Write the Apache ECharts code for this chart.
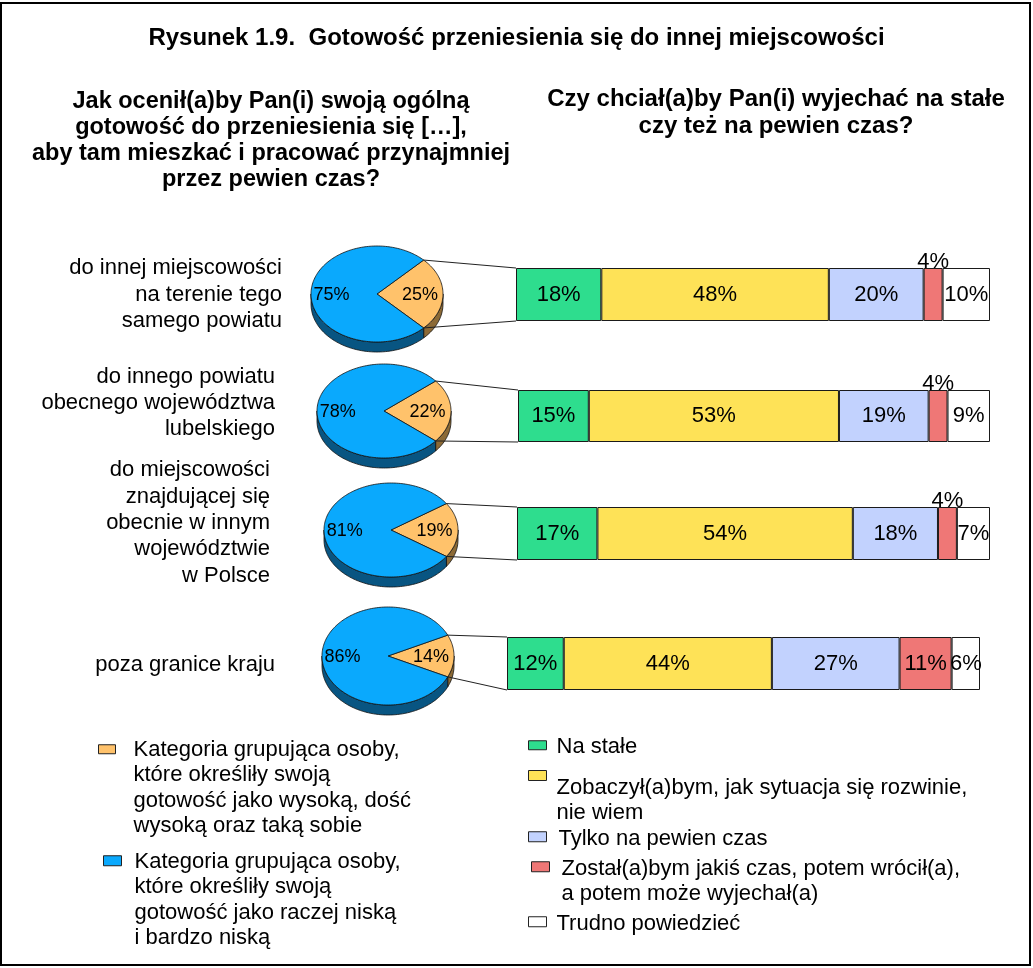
<!DOCTYPE html>
<html><head><meta charset="utf-8">
<script src="https://cdn.jsdelivr.net/npm/echarts@6/dist/echarts.min.js"></script>
<style>html,body{margin:0;padding:0;background:#fff}#c{width:1033px;height:968px}</style>
</head><body><div id="c"></div>
<script>
// ---------- data ----------
const rowLabels = [
  'do innej miejscowości\nna terenie tego\nsamego powiatu',
  'do innego powiatu\nobecnego województwa\nlubelskiego',
  'do miejscowości\nznajdującej się\nobecnie w innym\nwojewództwie\nw Polsce',
  'poza granice kraju'
];
const pieHighShare = [25, 22, 19, 14];   // wysoka, dość wysoka, taka sobie
const pieLowShare  = [75, 78, 81, 86];   // raczej niska, bardzo niska
const naStale          = [18, 15, 17, 12];
const zobaczylbym      = [48, 53, 54, 44];
const tylkoNaPewien    = [20, 19, 18, 27];
const zostalbym        = [4, 4, 4, 11];
const trudnoPowiedziec = [10, 9, 7, 6];

const pieNames = [
  'Kategoria grupująca osoby, które określiły swoją gotowość jako wysoką, dość wysoką oraz taką sobie',
  'Kategoria grupująca osoby, które określiły swoją gotowość jako raczej niską i bardzo niską'
];
const barNames = [
  'Na stałe',
  'Zobaczył(a)bym, jak sytuacja się rozwinie, nie wiem',
  'Tylko na pewien czas',
  'Został(a)bym jakiś czas, potem wrócił(a), a potem może wyjechał(a)',
  'Trudno powiedzieć'
];
const legendText = {};
legendText[pieNames[0]] = 'Kategoria grupująca osoby,\nktóre określiły swoją\ngotowość jako wysoką, dość\nwysoką oraz taką sobie';
legendText[pieNames[1]] = 'Kategoria grupująca osoby,\nktóre określiły swoją\ngotowość jako raczej niską\ni bardzo niską';
legendText[barNames[0]] = 'Na stałe';
legendText[barNames[1]] = 'Zobaczył(a)bym, jak sytuacja się rozwinie,\nnie wiem';
legendText[barNames[2]] = 'Tylko na pewien czas';
legendText[barNames[3]] = 'Został(a)bym jakiś czas, potem wrócił(a),\na potem może wyjechał(a)';
legendText[barNames[4]] = 'Trudno powiedzieć';

const titleText = 'Rysunek 1.9.  Gotowość przeniesienia się do innej miejscowości';
const leftQuestion = 'Jak ocenił(a)by Pan(i) swoją ogólną\ngotowość do przeniesienia się […],\naby tam mieszkać i pracować przynajmniej\nprzez pewien czas?';
const rightQuestion = 'Czy chciał(a)by Pan(i) wyjechać na stałe\nczy też na pewien czas?';

// ---------- layout & style ----------
const FONT = "'Liberation Sans', Arial, Helvetica, sans-serif";
const barValues = [naStale, zobaczylbym, tylkoNaPewien, zostalbym, trudnoPowiedziec];
const barColors = ['#2EDD8E', '#FEE257', '#C2D2FE', '#EF7776', '#FFFFFF'];
const pieColors = ['#FFC26B', '#0AA9FD'];
const pieSideColors = ['#8C6A36', '#085582'];
const barRects = [
  {left: 516, top: 268, width: 474, height: 53},
  {left: 518, top: 390, width: 472, height: 52},
  {left: 517, top: 507, width: 473, height: 53},
  {left: 507, top: 637, width: 473, height: 53}
];
const pieLayout = [
  {cx: 377, cy: 294, rx: 66, ry: 48},
  {cx: 384, cy: 411, rx: 67, ry: 47},
  {cx: 391, cy: 530, rx: 67, ry: 47},
  {cx: 388, cy: 656, rx: 66, ry: 49}
];
const PIE_DEPTH = 10;
const rowLabelPos = [[282, 294.5], [275, 403], [270, 523], [275, 665]];
const LEG_FS = 22, LEG_LH = 25.5;

function arcPts(p, a0, a1, dy) {
  const pts = [];
  const n = Math.max(2, Math.ceil(Math.abs(a1 - a0) / (Math.PI / 120)));
  for (let k = 0; k <= n; k++) {
    const a = a0 + (a1 - a0) * k / n;
    pts.push([p.cx + p.rx * Math.cos(a), p.cy + p.ry * Math.sin(a) + dy]);
  }
  return pts;
}

function makePieRenderer(kind) {
  return function (params, api) {
    const i = params.dataIndex;
    const v = api.value(0);
    const p = pieLayout[i];
    const half = Math.PI * (kind === 0 ? v : (100 - v)) / 100;
    let a0, a1;
    if (kind === 0) { a0 = -half; a1 = half; } else { a0 = half; a1 = 2 * Math.PI - half; }
    const children = [];
    const s0 = Math.max(a0, 0), s1 = Math.min(a1, Math.PI);
    if (s1 > s0) {
      const topArc = arcPts(p, s0, s1, 0);
      const botArc = arcPts(p, s1, s0, PIE_DEPTH);
      children.push({type: 'polygon', shape: {points: topArc.concat(botArc)},
        style: {fill: pieSideColors[kind], stroke: '#111', lineWidth: 0.8}});
    }
    children.push({type: 'polygon', shape: {points: [[p.cx, p.cy]].concat(arcPts(p, a0, a1, 0))},
      style: {fill: api.visual('color'), stroke: '#111', lineWidth: 0.8}});
    const mid = (a0 + a1) / 2;
    const lr = kind === 0 ? 0.65 : 0.69;
    children.push({type: 'text', style: {
      text: v + '%', x: p.cx + p.rx * lr * Math.cos(mid), y: p.cy + p.ry * lr * Math.sin(mid) + 1,
      align: 'center', verticalAlign: 'middle', font: '18px ' + FONT, fill: '#000'}});
    if (kind === 0) {
      const b = barRects[i];
      const t = [p.cx + p.rx * Math.cos(a0), p.cy + p.ry * Math.sin(a0)];
      const u = [p.cx + p.rx * Math.cos(a1), p.cy + p.ry * Math.sin(a1)];
      children.push({type: 'line', shape: {x1: t[0], y1: t[1], x2: b.left, y2: b.top}, style: {stroke: '#222', lineWidth: 1}});
      children.push({type: 'line', shape: {x1: u[0], y1: u[1], x2: b.left, y2: b.top + b.height}, style: {stroke: '#222', lineWidth: 1}});
    }
    return {type: 'group', children: children};
  };
}

// legend entry: icon box at (iconX, iconY) of size iw x ih, text starting at textX,
// first text line centred dy px below the icon centre
function legendItem(name, iconX, iconY, iw, ih, textX, dy) {
  const n = legendText[name].split('\n').length;
  const boxW = textX - iconX - 5;
  const boxH = ih + 2 * dy + (n - 1) * LEG_LH;
  const firstTop = ih / 2 + dy - LEG_FS / 2;
  return {
    data: [name], left: iconX, top: iconY + Math.min(0, firstTop), padding: 0,
    itemWidth: boxW, itemHeight: boxH,
    icon: 'path://M0,0H' + iw + 'V' + ih + 'H0ZM' + boxW + ',' + boxH,
    selectedMode: false,
    itemStyle: {borderColor: '#222', borderWidth: 1},
    textStyle: {fontSize: LEG_FS, lineHeight: LEG_LH, color: '#000', fontFamily: FONT},
    formatter: function (nm) { return legendText[nm]; }
  };
}

const grids = [], xAxes = [], yAxes = [], series = [];
barRects.forEach(function (r, i) {
  grids.push({left: r.left, top: r.top, width: r.width, height: r.height, containLabel: false});
  xAxes.push({gridIndex: i, type: 'value', min: 0, max: 100, show: false});
  yAxes.push({gridIndex: i, type: 'category', data: [rowLabels[i]], show: false});
});

barNames.forEach(function (name, k) {
  barRects.forEach(function (r, i) {
    const v = barValues[k][i];
    series.push({
      type: 'bar', name: name, xAxisIndex: i, yAxisIndex: i, stack: 'row' + i,
      data: [v], barWidth: '100%', silent: true,
      itemStyle: {color: barColors[k], borderColor: '#1a1a1a', borderWidth: 1},
      label: {show: true, formatter: '{c}%', position: v < 5 ? 'top' : 'inside', distance: -5,
        fontSize: 22, color: '#000', fontFamily: FONT},
      emphasis: {disabled: true}
    });
  });
});

pieNames.forEach(function (name, kind) {
  series.push({
    type: 'custom', name: name, coordinateSystem: 'none',
    data: kind === 0 ? pieHighShare : pieLowShare,
    itemStyle: {color: pieColors[kind]},
    renderItem: makePieRenderer(kind), silent: true
  });
});

const graphics = [
  {type: 'rect', shape: {x: 1, y: 3, width: 1029, height: 962}, style: {fill: 'none', stroke: '#000', lineWidth: 2}},
  {type: 'text', x: 271, y: 140.5, style: {text: leftQuestion, align: 'center', verticalAlign: 'middle',
    font: 'bold 23.5px ' + FONT, lineHeight: 26, fill: '#000'}},
  {type: 'text', x: 776, y: 112.5, style: {text: rightQuestion, align: 'center', verticalAlign: 'middle',
    font: 'bold 24px ' + FONT, lineHeight: 27, fill: '#000'}}
];
rowLabels.forEach(function (t, i) {
  graphics.push({type: 'text', x: rowLabelPos[i][0], y: rowLabelPos[i][1], style: {
    text: t, align: 'right', verticalAlign: 'middle', font: '22px ' + FONT, lineHeight: 26.3, fill: '#000'}});
});

const chart = echarts.init(document.getElementById('c'), null, {renderer: 'canvas'});
chart.setOption({
  animation: false,
  backgroundColor: '#fff',
  textStyle: {fontFamily: FONT},
  title: {text: titleText, left: 'center', top: 24, padding: 0,
    textStyle: {fontSize: 24, fontWeight: 'bold', color: '#000', lineHeight: 28, fontFamily: FONT}},
  grid: grids, xAxis: xAxes, yAxis: yAxes,
  legend: [
    legendItem(pieNames[0], 98, 743, 17, 9, 133, 0.5),
    legendItem(pieNames[1], 103, 854, 18, 10, 134, 1),
    legendItem(barNames[0], 528, 739, 18, 9, 556, 1.5),
    legendItem(barNames[1], 528, 770, 18, 10, 556, 12),
    legendItem(barNames[2], 528, 830, 18, 10, 558, 2),
    legendItem(barNames[3], 531, 860, 18, 10, 561, 2),
    legendItem(barNames[4], 528, 915, 18, 10, 556, 2)
  ],
  graphic: graphics,
  series: series
});
</script></body></html>
